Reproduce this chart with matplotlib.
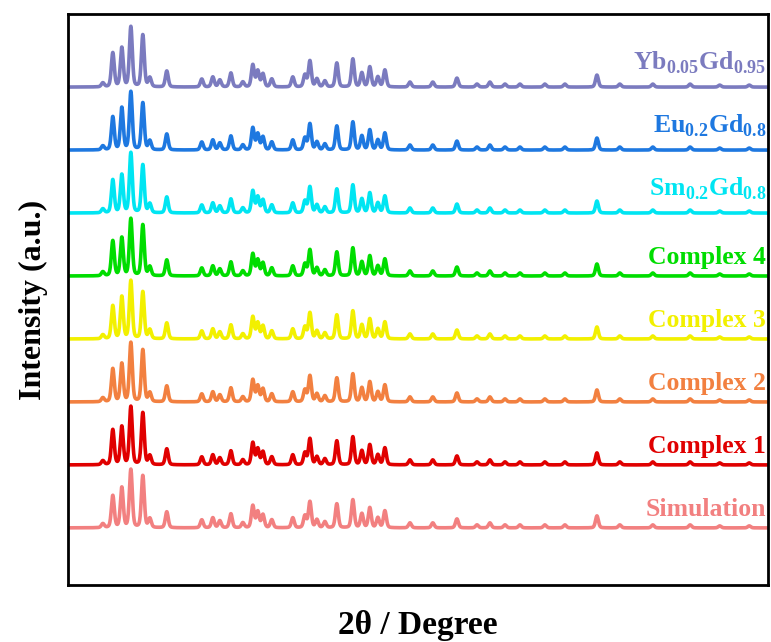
import numpy as np
import matplotlib
matplotlib.use("Agg")
import matplotlib.pyplot as plt

plt.rcParams["font.family"] = ["Liberation Serif", "DejaVu Serif"]
plt.rcParams["font.weight"] = "bold"
plt.rcParams["mathtext.fontset"] = "custom"
plt.rcParams["mathtext.rm"] = "Liberation Serif:bold"
plt.rcParams["mathtext.bf"] = "Liberation Serif:bold"

# series, bottom to top
names = ["Simulation", "Complex 1", "Complex 2", "Complex 3", "Complex 4",
         r"Sm$_{\mathbf{0.2}}$Gd$_{\mathbf{0.8}}$",
         r"Eu$_{\mathbf{0.2}}$Gd$_{\mathbf{0.8}}$",
         r"Yb$_{\mathbf{0.05}}$Gd$_{\mathbf{0.95}}$"]
colors = ["#f28080", "#e00000", "#f28040", "#f2f000", "#00dd00",
          "#00e5f2", "#1e78e0", "#7b7bbf"]

# peak positions (2theta, deg) and common relative heights (a.u.)
peak_pos = [7.25, 7.89, 8.47, 9.05, 9.82, 10.27, 11.36, 13.61, 14.32, 14.77,
            15.48, 16.25, 16.89, 17.21, 17.54, 18.11, 19.46, 20.24, 20.56,
            21.01, 21.52, 22.29, 23.32, 23.90, 24.41, 24.93, 25.38, 26.99,
            28.46, 30.01, 31.30, 32.13, 33.10, 34.06, 35.66, 36.95, 39.01,
            40.48, 42.60, 45.0, 46.9, 48.8]
peak_h = [4, 34, 39, 60, 52, 9, 16, 8, 10, 7,
          14, 5, 22, 16, 13, 8, 10, 12, 26,
          8, 6, 24, 28, 14, 20, 10, 17, 5,
          5, 9, 3, 5, 3, 3, 3, 3, 12,
          3, 3, 3, 2, 2]

# the four strongest reflections, read per pattern (same order as names)
main_h = [[32, 40, 58, 52],
          [35, 38, 58, 52],
          [33, 38, 59, 52],
          [33, 42, 58, 47],
          [35, 38, 57, 51],
          [33, 38, 60, 48],
          [33, 42, 58, 47],
          [34, 39, 60, 52]]

x = np.linspace(5, 50, 4000)
fwhm = 0.22


def profile(heights):
    y = np.zeros_like(x)
    for c, h in zip(peak_pos, heights):
        g = np.exp(-4 * np.log(2) * ((x - c) / fwhm) ** 2)
        l = 1 / (1 + 4 * ((x - c) / fwhm) ** 2)
        y += h * (0.7 * g + 0.3 * l)
    return y


fig = plt.figure(figsize=(7.71, 6.42), dpi=100)
ax = fig.add_axes([0.088, 0.089, 0.908, 0.889])

step = 63
for i, (name, col) in enumerate(zip(names, colors)):
    hs = list(peak_h)
    hs[1:5] = main_h[i]
    off = 57 + step * i
    ax.plot(x, profile(hs) + off, color=col, lw=2.6)
    pad = 18 if "$" in name else 12
    ax.text(49.9, off + pad, name, color=col, fontsize=18.5,
            ha="right", va="baseline", fontweight="bold")

ax.set_xlim(5, 50)
ax.set_ylim(0, 571)
ax.set_xticks([])
ax.set_yticks([])
for s in ax.spines.values():
    s.set_linewidth(2)
ax.set_xlabel("2\u03b8 / Degree", fontsize=24, fontweight="bold", labelpad=18)
ax.set_ylabel("Intensity (a.u.)", fontsize=23, fontweight="bold", labelpad=14)

fig.savefig("out.png", dpi=100)
